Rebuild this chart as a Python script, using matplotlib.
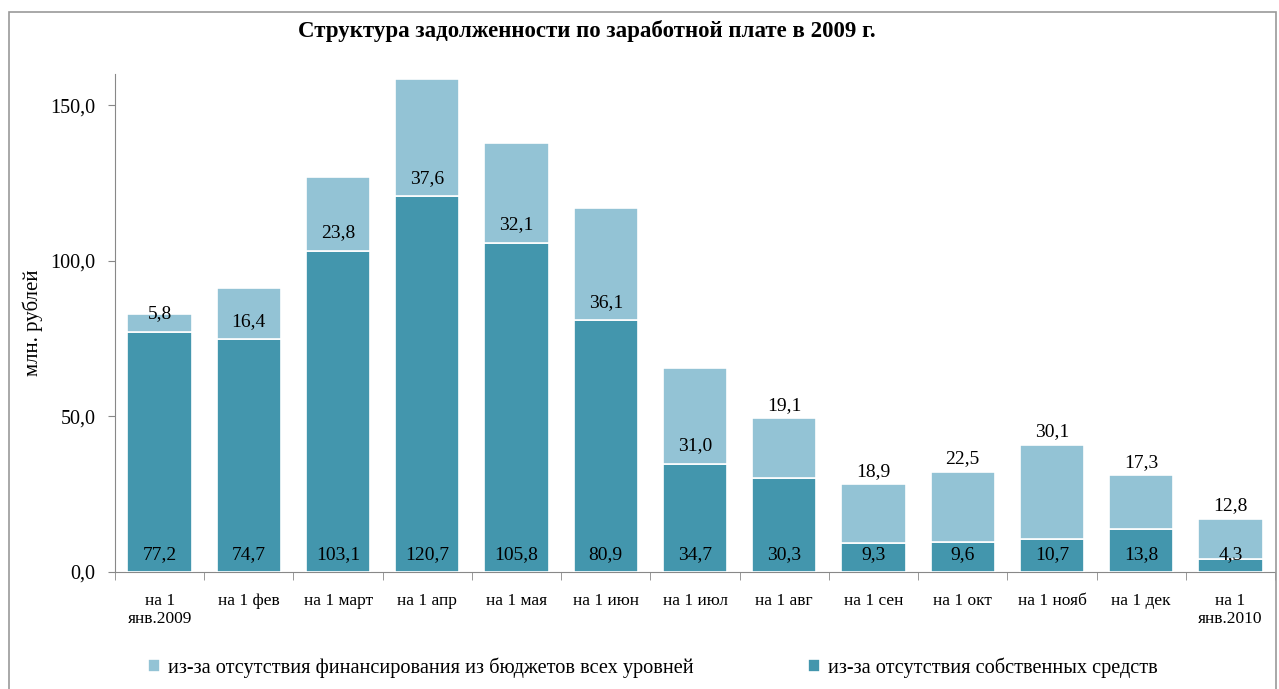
import matplotlib.pyplot as plt
from matplotlib.patches import Rectangle
import numpy as np

plt.rcParams['font.family'] = ['Liberation Serif', 'DejaVu Serif']

# data
months = ["на 1\nянв.2009", "на 1 фев", "на 1 март", "на 1 апр", "на 1 мая", "на 1 июн",
          "на 1 июл", "на 1 авг", "на 1 сен", "на 1 окт", "на 1 нояб", "на 1 дек", "на 1\nянв.2010"]
own_funds = [77.2, 74.7, 103.1, 120.7, 105.8, 80.9, 34.7, 30.3, 9.3, 9.6, 10.7, 13.8, 4.3]
budget = [5.8, 16.4, 23.8, 37.6, 32.1, 36.1, 31.0, 19.1, 18.9, 22.5, 30.1, 17.3, 12.8]
label_own = "из-за отсутствия собственных средств"
label_budget = "из-за отсутствия финансирования из бюджетов всех уровней"

dark = "#4396ad"
light = "#93c3d5"

fig = plt.figure(figsize=(12.79, 6.89), dpi=100)
ax = fig.add_axes([0.0899, 0.1698, 0.907, 0.7228])

x = np.arange(len(months))
w = 0.72
b1 = ax.bar(x, own_funds, w, color=dark, edgecolor="white", linewidth=1.2, label=label_own, zorder=3)
b2 = ax.bar(x, budget, w, bottom=own_funds, color=light, edgecolor="white", linewidth=1.2,
            label=label_budget, zorder=3)

fmt = lambda v: f"{v:.1f}".replace(".", ",")
for i in range(len(months)):
    ax.text(x[i], 5.6, fmt(own_funds[i]), ha="center", va="center", fontsize=14, zorder=4)
    # small top segments are labelled above the bar, big ones just above the base
    if i < 7:
        ty = own_funds[i] + 5.8
    else:
        ty = own_funds[i] + budget[i] + 4.2
    ax.text(x[i], ty, fmt(budget[i]), ha="center", va="center", fontsize=14, zorder=4)

ax.set_xlim(-0.5, len(months) - 0.5)
ax.set_ylim(0, 160)
ax.set_yticks([0, 50, 100, 150])
ax.set_yticklabels(["0,0", "50,0", "100,0", "150,0"], fontsize=14.5)
ax.set_xticks(x)
ax.set_xticklabels(months, fontsize=12.5)
ax.tick_params(axis="x", length=0, pad=15)
ax.set_xticks(np.arange(-0.5, len(months), 1), minor=True)
ax.tick_params(axis="x", which="minor", length=6, color="#888888", direction="out")
ax.tick_params(axis="y", length=5, color="#888888", direction="out", pad=9)
for s in ["top", "right"]:
    ax.spines[s].set_visible(False)
for s in ["left", "bottom"]:
    ax.spines[s].set_color("#888888")
ax.set_ylabel("млн. рублей", fontsize=15, labelpad=5)

fig.text(0.459, 0.955, "Структура задолженности по заработной плате в 2009 г.",
         ha="center", va="center", fontsize=16.5, fontweight="bold")

fig.legend(handles=[b2, b1], loc="center", bbox_to_anchor=(0.5105, 0.031), ncol=2, frameon=False,
           fontsize=14.6, handlelength=0.6, handleheight=0.6, handletextpad=0.4, columnspacing=5.6)

fig.patches.append(Rectangle((9 / 1279, -0.05), 1267 / 1279, 1.05 - 12 / 689, transform=fig.transFigure,
                             fill=False, edgecolor="#999999", linewidth=1.2))

fig.savefig("out.png", dpi=100)
